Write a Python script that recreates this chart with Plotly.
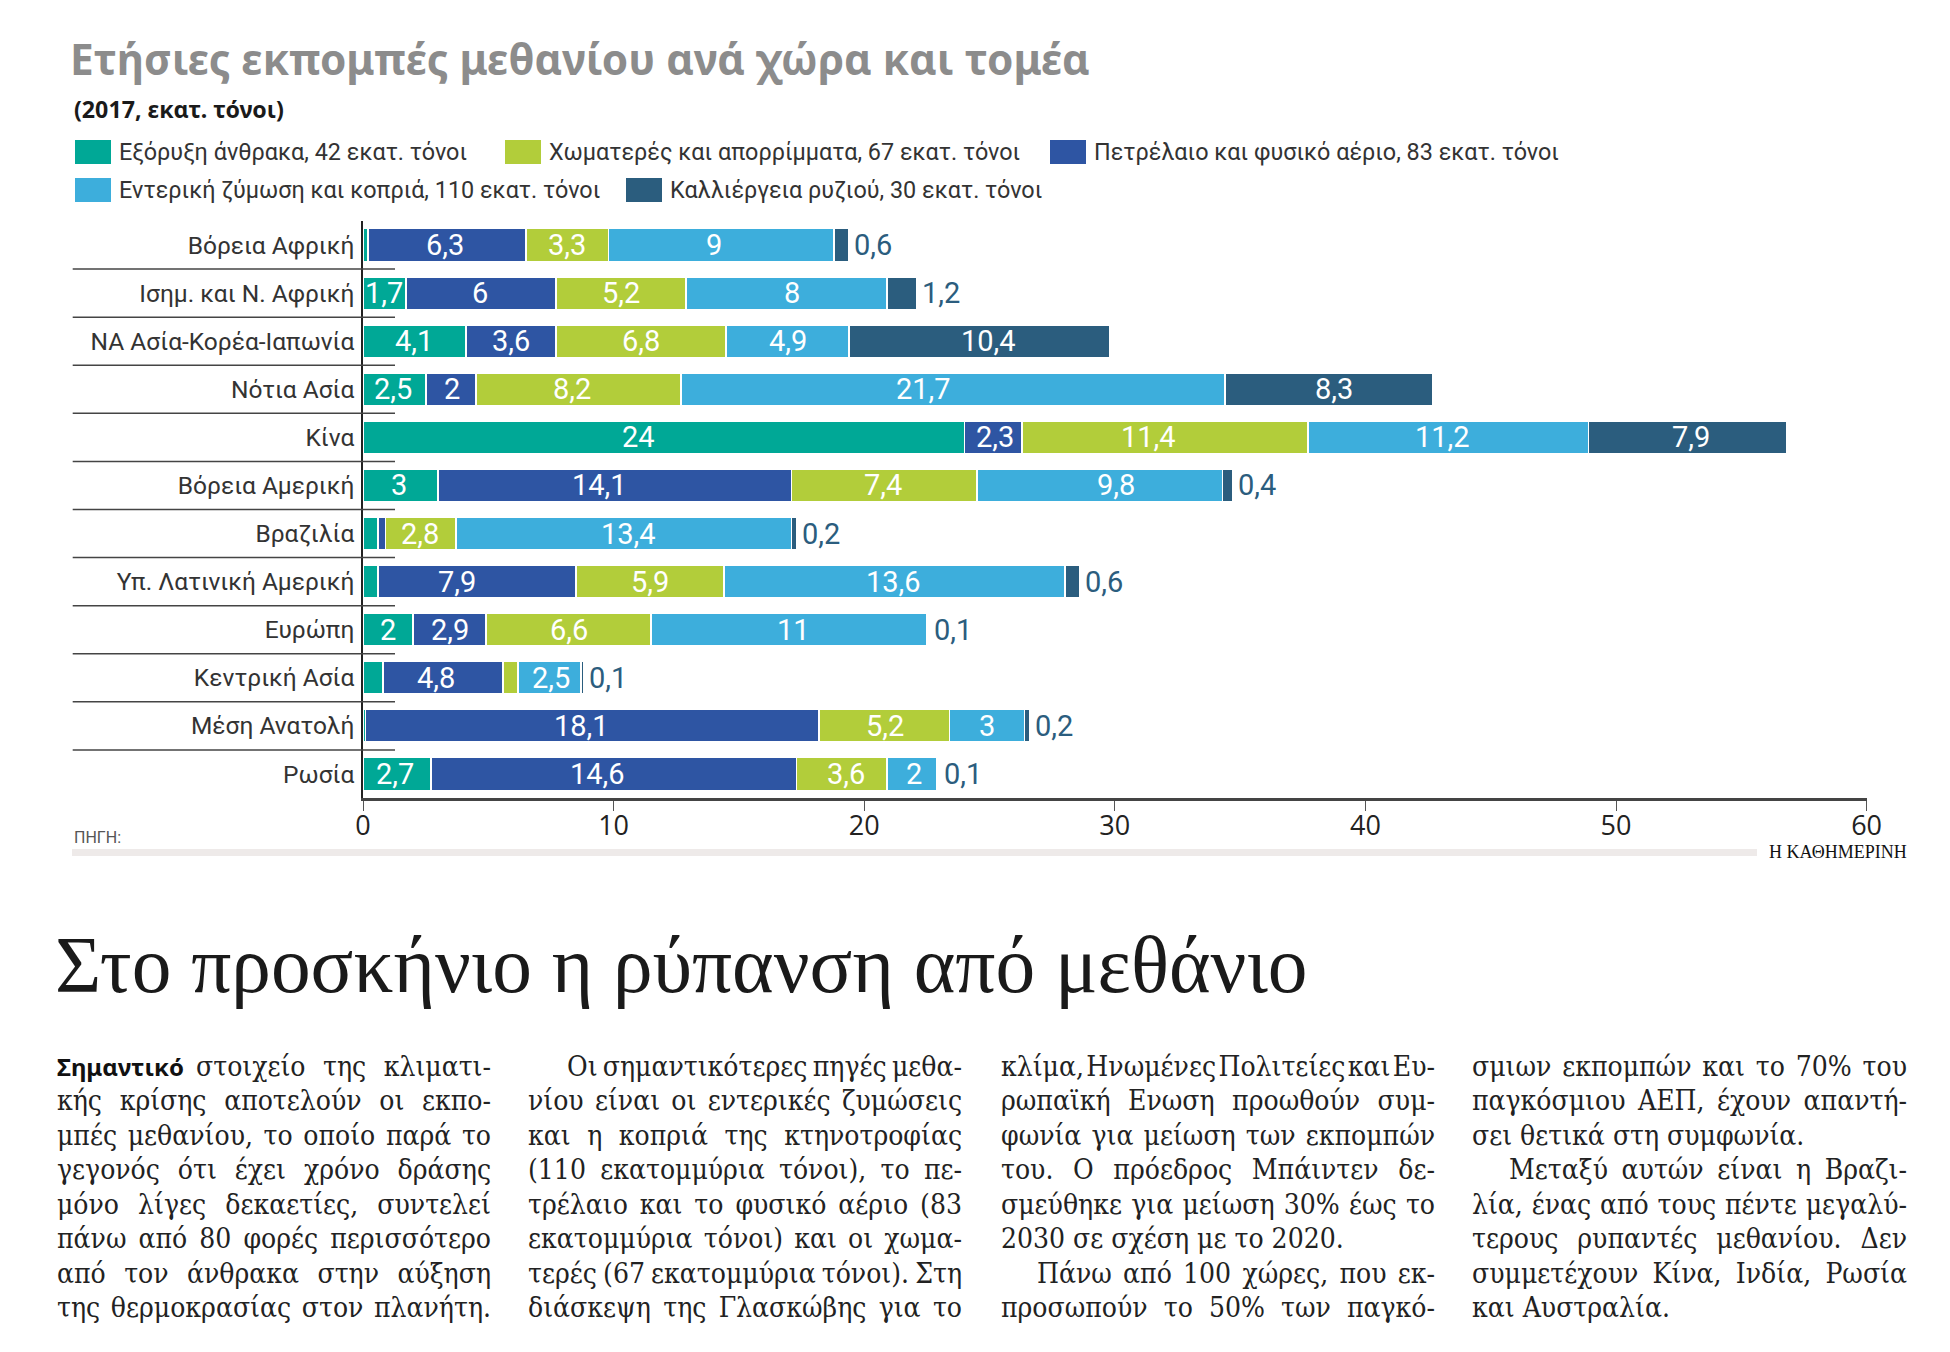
import json
import plotly.graph_objects as go

W, H = 1950, 1352

regions = ["Βόρεια Αφρική", "Ισημ. και Ν. Αφρική", "ΝΑ Ασία-Κορέα-Ιαπωνία", "Νότια Ασία", "Κίνα",
           "Βόρεια Αμερική", "Βραζιλία", "Υπ. Λατινική Αμερική", "Ευρώπη", "Κεντρική Ασία",
           "Μέση Ανατολή", "Ρωσία"]
coal  = [0.2, 1.7, 4.1, 2.5, 24, 3, 0.6, 0.6, 2, 0.8, 0.1, 2.7]
oil   = [6.3, 6, 3.6, 2, 2.3, 14.1, 0.3, 7.9, 2.9, 4.8, 18.1, 14.6]
waste = [3.3, 5.2, 6.8, 8.2, 11.4, 7.4, 2.8, 5.9, 6.6, 0.6, 5.2, 3.6]
enter = [9, 8, 4.9, 21.7, 11.2, 9.8, 13.4, 13.6, 11, 2.5, 3, 2]
rice  = [0.6, 1.2, 10.4, 8.3, 7.9, 0.4, 0.2, 0.6, 0.1, 0.1, 0.2, 0.1]
series_names = ["Εξόρυξη άνθρακα", "Πετρέλαιο και φυσικό αέριο", "Χωματερές και απορρίμματα",
                "Εντερική ζύμωση και κοπριά", "Καλλιέργεια ρυζιού"]
colors = ["#00A896", "#2E55A3", "#B2CD3A", "#3DAEDC", "#2B5D7E"]
x_ticks = [0, 10, 20, 30, 40, 50, 60]

title_text = "Ετήσιες εκπομπές μεθανίου ανά χώρα και τομέα"
subtitle_text = "(2017, εκατ. τόνοι)"
legend_labels = ["Εξόρυξη άνθρακα, 42 εκατ. τόνοι", "Χωματερές και απορρίμματα, 67 εκατ. τόνοι",
                 "Πετρέλαιο και φυσικό αέριο, 83 εκατ. τόνοι", "Εντερική ζύμωση και κοπριά, 110 εκατ. τόνοι",
                 "Καλλιέργεια ρυζιού, 30 εκατ. τόνοι"]
source_text = "ΠΗΓΗ:"
brand_text = "Η ΚΑΘΗΜΕΡΙΝΗ"
headline = "Στο προσκήνιο η ρύπανση από μεθάνιο"
lead_word = "Σημαντικό"
col1 = ["στοιχείο της κλιματι-", "κής κρίσης αποτελούν οι εκπο-", "μπές μεθανίου, το οποίο παρά το",
        "γεγονός ότι έχει χρόνο δράσης", "μόνο λίγες δεκαετίες, συντελεί", "πάνω από 80 φορές περισσότερο",
        "από τον άνθρακα στην αύξηση", "της θερμοκρασίας στον πλανήτη."]
col2 = ["Οι σημαντικότερες πηγές μεθα-", "νίου είναι οι εντερικές ζυμώσεις", "και η κοπριά της κτηνοτροφίας",
        "(110 εκατομμύρια τόνοι), το πε-", "τρέλαιο και το φυσικό αέριο (83", "εκατομμύρια τόνοι) και οι χωμα-",
        "τερές (67 εκατομμύρια τόνοι). Στη", "διάσκεψη της Γλασκώβης για το"]
col3 = ["κλίμα, Ηνωμένες Πολιτείες και Ευ-", "ρωπαϊκή Ενωση προωθούν συμ-", "φωνία για μείωση των εκπομπών",
        "του. Ο πρόεδρος Μπάιντεν δε-", "σμεύθηκε για μείωση 30% έως το", "2030 σε σχέση με το 2020.",
        "Πάνω από 100 χώρες, που εκ-", "προσωπούν το 50% των παγκό-"]
col4 = ["σμιων εκπομπών και το 70% του", "παγκόσμιου ΑΕΠ, έχουν απαντή-", "σει θετικά στη συμφωνία.",
        "Μεταξύ αυτών είναι η Βραζι-", "λία, ένας από τους πέντε μεγαλύ-", "τερους ρυπαντές μεθανίου. Δεν",
        "συμμετέχουν Κίνα, Ινδία, Ρωσία", "και Αυστραλία."]

SANS = "Roboto"
SERIF = "DejaVu Serif Condensed"

# hand placement of the printed value labels, in screen pixels from the segment centre: (row, series) -> px
label_nudge = {(0, 1): -2, (0, 3): -7, (1, 1): -1, (1, 3): 5, (2, 4): 9, (3, 0): -1, (3, 1): 1, (3, 2): -7,
               (3, 3): -30, (3, 4): 5, (4, 0): -25, (4, 1): 2, (4, 2): -16, (4, 3): -6, (4, 4): 4,
               (5, 0): -2, (5, 1): -15, (5, 2): -1, (5, 3): 16, (6, 2): -1, (6, 3): 5, (7, 1): -20,
               (7, 3): -1, (8, 1): 1, (8, 2): 1, (8, 3): 4, (9, 1): -7, (9, 3): 1, (10, 1): -11, (10, 2): 1,
               (11, 0): -2, (11, 1): -16, (11, 2): 4, (11, 3): 2}


def fmt(v):
    return str(v).replace(".", ",")


fig = go.Figure()
all_series = [coal, oil, waste, enter, rice]
for name, vals, color in zip(series_names, all_series, colors):
    fig.add_bar(y=regions, x=vals, orientation="h", name=name, marker_color=color,
                marker_line_color="white", marker_line_width=1.8, showlegend=False)

fig.update_layout(
    barmode="stack", bargap=0.314, width=W, height=H, autosize=False,
    margin=dict(l=0, r=0, t=0, b=0, autoexpand=False),
    paper_bgcolor="white", plot_bgcolor="white",
    xaxis=dict(domain=[363 / W, 1866.6 / W], range=[0, 60], tickvals=x_ticks, ticks="outside", ticklen=10,
               tickwidth=1, tickcolor="#555", showgrid=False, zeroline=False, showline=True, linecolor="#444",
               linewidth=2.5, ticklabelstandoff=-8, tickfont=dict(family="Open Sans", size=27, color="#222"),
               anchor="y"),
    yaxis=dict(domain=[1 - 798 / H, 1 - 221 / H], range=[len(regions) - 0.5, -0.5], type="category", ticks="",
               showgrid=False, showline=True, linecolor="#222", linewidth=1.5, ticklabelstandoff=2,
               tickfont=dict(family=SANS, size=24.5, color="#333"), anchor="x"),
)

# value labels, centred on each segment via the data axes
for r, region in enumerate(regions):
    cum = 0
    for s, vals in enumerate(all_series):
        v = vals[r]
        mid = cum + v / 2
        cum += v
        if s == 4 and v < 5:
            fig.add_annotation(x=round(cum, 2), y=region, text=fmt(v), showarrow=False, xanchor="left", xshift=3,
                               font=dict(family=SANS, size=29, color=colors[4]))
        elif v >= 1.7:
            fig.add_annotation(x=mid, y=region, text=fmt(v), showarrow=False, xanchor="center",
                               xshift=label_nudge.get((r, s), 0),
                               font=dict(family=SANS, size=29, color="white"))


def note(px, py, text, size, color="#222", family=SANS, anchor="left"):
    fig.add_annotation(xref="paper", yref="paper", x=px / W, y=1 - py / H, text=text, showarrow=False,
                       xanchor=anchor, yanchor="middle", align=anchor, borderpad=0,
                       font=dict(family=family, size=size, color=color))


def rect(x0, y0, x1, y1, color):
    fig.add_shape(type="rect", xref="paper", yref="paper", x0=x0 / W, x1=x1 / W, y0=1 - y0 / H, y1=1 - y1 / H,
                  fillcolor=color, line_width=0, layer="below")


note(69, 58, "<b>" + title_text + "</b>", 42.3, "#8C8C8C", "Noto Sans")
note(73, 109, "<b>" + subtitle_text + "</b>", 23.2, "#1a1a1a", "Noto Sans")

legend_pos = [(75, 152, colors[0]), (505, 152, colors[2]), (1050, 152, colors[1]),
              (75, 190, colors[3]), (626, 190, colors[4])]
for (lx, ly, c), lab in zip(legend_pos, legend_labels):
    rect(lx, ly - 12, lx + 36, ly + 12, c)
    note(lx + 43, ly, lab, 23.4, "#333")

for i in range(len(regions) - 1):
    fig.add_shape(type="line", xref="paper", yref="y", x0=72.7 / W, x1=395 / W, y0=i + 0.5, y1=i + 0.5,
                  line=dict(color="#444", width=1.5))

note(73, 837, source_text, 16, "#555")
rect(72, 849, 1757, 856, "#EEEAE9")
note(1768, 852, brand_text, 18, "#111", "Liberation Serif")

note(54, 965, headline, 79.4, "#1a1a1a", "Liberation Serif")

LINE_Y = [1066 + 34.5 * i for i in range(8)]
BODY = 28
BODY_C = "#222"
note(56, LINE_Y[0], "<b>" + lead_word + "</b>", 24, "#111", "Noto Sans")

fit_width = {}
columns = [(col1, 56, 490, {0: 195}, []),
           (col2, 527, 961, {0: 566}, []),
           (col3, 1000, 1434, {6: 1036}, [5]),
           (col4, 1471, 1906, {3: 1508}, [2, 7])]
for lines, left, right, indents, short in columns:
    for i, t in enumerate(lines):
        start = indents.get(i, left)
        note(start, LINE_Y[i], t, BODY, BODY_C, SERIF)
        if i not in short:
            fit_width[t] = right - start

justify = """
document.body.style.margin = '0';
var fit = %s;
document.querySelectorAll('.annotation-text').forEach(function (el) {
  var w = fit[el.textContent];
  if (!w) return;
  var n = el.textContent.split(' ').length - 1;
  if (n > 0) el.style.wordSpacing = ((w - el.getComputedTextLength()) / n) + 'px';
});
""" % json.dumps(fit_width, ensure_ascii=False)

fig.write_html("out.html", post_script=justify, config={"displayModeBar": False})
